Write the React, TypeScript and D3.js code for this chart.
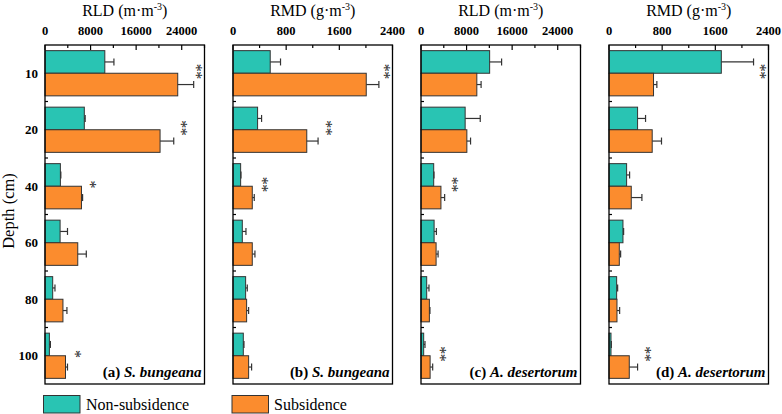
import React from "react";
import * as d3 from "d3";

// depth groups (cm)
const depths = [10, 20, 40, 60, 80, 100];

// (a) RLD, S. bungeana
const rldSbNon = [10500, 6900, 2700, 2650, 1350, 770];
const rldSbNonErr = [1600, 150, 80, 1300, 400, 180];
const rldSbSub = [23300, 20200, 6400, 5750, 3150, 3600];
const rldSbSubErr = [2800, 2400, 200, 1500, 700, 350];
const sigA = ["**", "**", "*", "", "", "*"];

// (b) RMD, S. bungeana
const rmdSbNon = [560, 370, 115, 140, 190, 155];
const rmdSbNonErr = [155, 60, 5, 55, 25, 10];
const rmdSbSub = [2005, 1110, 290, 290, 205, 235];
const rmdSbSubErr = [190, 170, 30, 40, 30, 45];
const sigB = ["**", "**", "**", "", "", ""];

// (c) RLD, A. desertorum
const rldAdNon = [12050, 7750, 2230, 2300, 1000, 470];
const rldAdNonErr = [2100, 2650, 50, 400, 400, 230];
const rldAdSub = [9800, 8050, 3500, 2650, 1470, 1600];
const rldAdSubErr = [750, 650, 650, 350, 100, 450];
const sigC = ["", "", "**", "", "", "**"];

// (d) RMD, A. desertorum
const rmdAdNon = [1690, 430, 265, 210, 115, 30];
const rmdAdNonErr = [485, 120, 45, 10, 15, 5];
const rmdAdSub = [670, 650, 335, 155, 120, 305];
const rmdAdSubErr = [50, 140, 160, 20, 40, 125];
const sigD = ["**", "", "", "", "", "**"];

const rldTicks = [0, 8000, 16000, 24000];
const rmdTicks = [0, 800, 1600, 2400];

const TEAL = "#29C4B3";
const ORANGE = "#FB8C2E";
const FONT = "Liberation Serif";

const panels = [
  { unit: "RLD", sup: "m·m", max: 28000, ticks: rldTicks, minor: 4000, non: rldSbNon, nonErr: rldSbNonErr, sub: rldSbSub, subErr: rldSbSubErr, sig: sigA, tag: "(a) ", species: "S. bungeana" },
  { unit: "RMD", sup: "g·m", max: 2400, ticks: rmdTicks, minor: 400, non: rmdSbNon, nonErr: rmdSbNonErr, sub: rmdSbSub, subErr: rmdSbSubErr, sig: sigB, tag: "(b) ", species: "S. bungeana" },
  { unit: "RLD", sup: "m·m", max: 28000, ticks: rldTicks, minor: 4000, non: rldAdNon, nonErr: rldAdNonErr, sub: rldAdSub, subErr: rldAdSubErr, sig: sigC, tag: "(c) ", species: "A. desertorum" },
  { unit: "RMD", sup: "g·m", max: 2400, ticks: rmdTicks, minor: 400, non: rmdAdNon, nonErr: rmdAdNonErr, sub: rmdAdSub, subErr: rmdAdSubErr, sig: sigD, tag: "(d) ", species: "A. desertorum" },
];

const TOP = 45;
const BOTTOM = 384;
const PANEL_W = 159.5;
const PANEL_STEP = 188;
const LEFT0 = 45;

const y = d3.scaleBand<number>().domain(depths).range([TOP, BOTTOM]).paddingInner(0.2).paddingOuter(0.1);
const bh = y.bandwidth() / 2;

// significance marks, stacked vertically (text turned 90°)
function Stars({ x, cy, s }: { x: number; cy: number; s: string }) {
  if (!s) return null;
  const fs = 16;
  return (
    <g opacity={0.99}>
      <text
        transform={`translate(${x - fs * 0.47},${cy}) rotate(90)`}
        textAnchor="middle"
        fontFamily={FONT}
        fontSize={fs}
        letterSpacing={-0.5}
        fill="#2a2a2a"
      >
        {s}
      </text>
    </g>
  );
}

function Panel({ p, idx }: { p: (typeof panels)[number]; idx: number }) {
  const x0 = LEFT0 + idx * PANEL_STEP;
  const x = d3.scaleLinear().domain([0, p.max]).range([x0, x0 + PANEL_W]);
  const minorTicks = d3.range(0, p.max + 1, p.minor).filter((v) => !p.ticks.includes(v));
  const bounds = depths.slice(1).map((d) => (y(d) as number) - (y.step() * y.paddingInner()) / 2);
  const errBar = (v: number, e: number, cy: number, key: string) => (
    <g key={key} stroke="#333" strokeWidth={1.2}>
      <line x1={x(v)} x2={x(v + e)} y1={cy} y2={cy} />
      <line x1={x(v + e)} x2={x(v + e)} y1={cy - 3.5} y2={cy + 3.5} />
    </g>
  );
  return (
    <g>
      <text x={x0 + PANEL_W / 2} y={16} textAnchor="middle" fontSize={16} fontFamily={FONT}>
        {p.unit} ({p.sup}
        <tspan dy={-6} fontSize={10}>-3</tspan>
        <tspan dy={6}>)</tspan>
      </text>
      {p.ticks.map((t) => (
        <text key={t} x={x(t)} y={35} textAnchor="middle" fontSize={12.5} fontWeight="bold" fontFamily={FONT}>
          {t}
        </text>
      ))}
      {p.ticks.map((t) => (
        <line key={"M" + t} x1={x(t)} x2={x(t)} y1={TOP} y2={TOP + 5} stroke="#000" strokeWidth={1.2} />
      ))}
      {minorTicks.map((t) => (
        <line key={"m" + t} x1={x(t)} x2={x(t)} y1={TOP} y2={TOP + 3} stroke="#000" strokeWidth={1.2} />
      ))}
      {bounds.map((b, i) => (
        <line key={"b" + i} x1={x0} x2={x0 + 3} y1={b} y2={b} stroke="#000" strokeWidth={1.2} />
      ))}
      {depths.map((d, i) => {
        const top = y(d) as number;
        return (
          <g key={d}>
            <rect x={x(0)} y={top} width={x(p.non[i]) - x(0)} height={bh} fill={TEAL} stroke="#333" strokeWidth={1} />
            <rect x={x(0)} y={top + bh} width={x(p.sub[i]) - x(0)} height={bh} fill={ORANGE} stroke="#333" strokeWidth={1} />
            {errBar(p.non[i], p.nonErr[i], top + bh / 2, "en")}
            {errBar(p.sub[i], p.subErr[i], top + bh * 1.5, "es")}
          </g>
        );
      })}
      {depths.map((d, i) => {
        const end = Math.max(p.non[i] + p.nonErr[i], p.sub[i] + p.subErr[i]);
        const sx = Math.min(x(end) + 10, x0 + PANEL_W - 6);
        return <Stars key={"s" + d} x={sx} cy={(y(d) as number) + bh - 2} s={p.sig[i]} />;
      })}
      <rect x={x0} y={TOP} width={PANEL_W} height={BOTTOM - TOP} fill="none" stroke="#000" strokeWidth={1.3} />
      <text x={x0 + PANEL_W - 3} y={377} textAnchor="end" fontSize={15} fontWeight="bold" fontFamily={FONT}>
        {p.tag}
        <tspan fontStyle="italic">{p.species}</tspan>
      </text>
    </g>
  );
}

export default function App() {
  return (
    <svg width={782} height={414} style={{ position: "absolute", left: 0, top: 0, background: "#fff" }}>
      <rect width={782} height={414} fill="#fff" />
      {depths.map((d) => (
        <text key={d} x={38} y={(y(d) as number) + bh + 4.5} textAnchor="end" fontSize={13} fontWeight="bold" fontFamily={FONT}>
          {d}
        </text>
      ))}
      <text transform="translate(14,211) rotate(-90)" textAnchor="middle" fontSize={16.5} fontFamily={FONT}>
        Depth (cm)
      </text>
      {panels.map((p, i) => (
        <Panel key={i} p={p} idx={i} />
      ))}
      <g fontFamily={FONT} fontSize={16}>
        <rect x={43.5} y={395.5} width={36.5} height={17.5} fill={TEAL} stroke="#333" strokeWidth={1} />
        <text x={86} y={410}>Non-subsidence</text>
        <rect x={232} y={395.5} width={36.5} height={17.5} fill={ORANGE} stroke="#333" strokeWidth={1} />
        <text x={274} y={410}>Subsidence</text>
      </g>
    </svg>
  );
}
